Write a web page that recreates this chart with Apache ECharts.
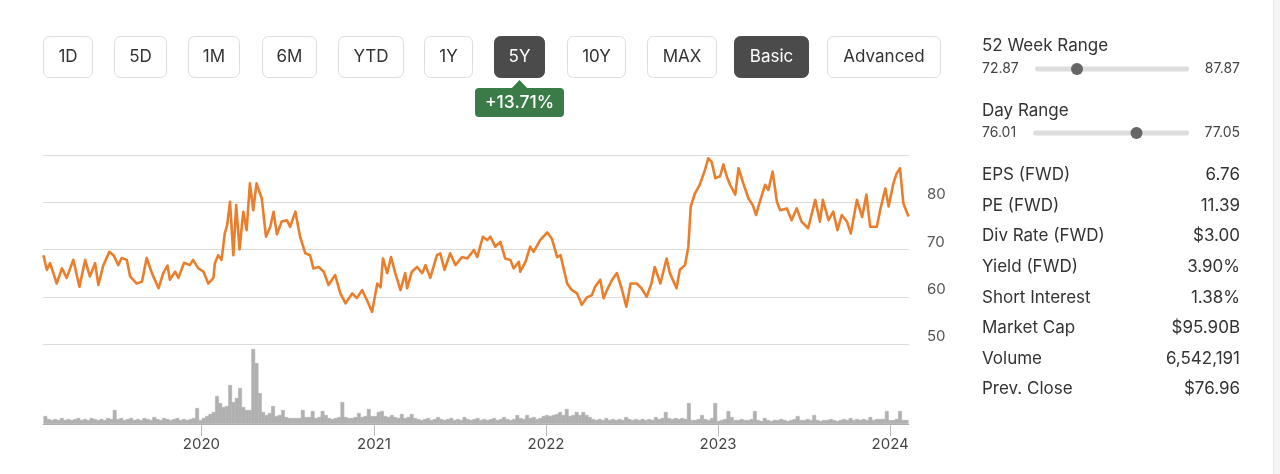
<!DOCTYPE html>
<html>
<head>
<meta charset="utf-8">
<script src="https://cdn.jsdelivr.net/npm/echarts@6/dist/echarts.min.js"></script>
<style>
html,body{margin:0;padding:0;background:#fff;}
#chart{width:1280px;height:474px;}
</style>
</head>
<body>
<div id="chart"></div>
<script>
// ---------------- DATA ----------------
const priceDates = [
'2019-02-04','2019-02-11','2019-02-18','2019-03-04','2019-03-15','2019-03-25','2019-04-08','2019-04-21','2019-05-03','2019-05-13',
'2019-05-24','2019-05-31','2019-06-10','2019-06-23','2019-07-02','2019-07-12','2019-07-19','2019-07-30','2019-08-06','2019-08-20',
'2019-08-31','2019-09-10','2019-09-21','2019-10-05','2019-10-15','2019-10-24','2019-10-29','2019-11-09','2019-11-16','2019-11-28',
'2019-12-10','2019-12-17','2019-12-28',
'2020-01-08','2020-01-18','2020-01-29','2020-02-01','2020-02-08','2020-02-15','2020-02-22','2020-02-27','2020-03-04','2020-03-11',
'2020-03-17','2020-03-24','2020-04-01','2020-04-08','2020-04-15','2020-04-22','2020-04-29','2020-05-10','2020-05-19','2020-05-28',
'2020-06-04','2020-06-11','2020-06-21','2020-07-02','2020-07-09','2020-07-20','2020-07-30','2020-08-10','2020-08-20','2020-08-27',
'2020-09-07','2020-09-18','2020-09-28','2020-10-12','2020-10-23','2020-11-03','2020-11-17','2020-11-27','2020-12-08','2020-12-18',
'2020-12-29',
'2021-01-09','2021-01-16','2021-01-21','2021-01-30','2021-02-07','2021-02-16','2021-02-27','2021-03-09','2021-03-13','2021-03-23',
'2021-04-03','2021-04-14','2021-04-21','2021-05-01','2021-05-15','2021-05-22','2021-05-31','2021-06-12','2021-06-23','2021-07-07',
'2021-07-18','2021-08-01','2021-08-08','2021-08-20','2021-08-29','2021-09-05','2021-09-15','2021-09-26','2021-10-06','2021-10-17',
'2021-10-24','2021-11-04','2021-11-07','2021-11-18','2021-11-28','2021-12-05','2021-12-19',
'2022-01-03','2022-01-13','2022-01-24','2022-01-31','2022-02-14','2022-02-24','2022-03-07','2022-03-17','2022-03-28','2022-04-07',
'2022-04-14','2022-04-25','2022-05-02','2022-05-09','2022-05-20','2022-05-30','2022-06-09','2022-06-19','2022-06-28','2022-07-11',
'2022-07-21','2022-08-01','2022-08-11','2022-08-18','2022-08-30','2022-09-12','2022-09-19','2022-10-03','2022-10-10','2022-10-21',
'2022-10-28','2022-11-02','2022-11-11','2022-11-21','2022-12-02','2022-12-09','2022-12-16','2022-12-24',
'2023-01-03','2023-01-10','2023-01-17','2023-01-24','2023-02-04','2023-02-11','2023-02-21','2023-03-04','2023-03-13','2023-03-20',
'2023-03-27','2023-04-08','2023-04-15','2023-04-24','2023-05-03','2023-05-10','2023-05-24','2023-06-03','2023-06-14','2023-06-24',
'2023-07-08','2023-07-23','2023-08-02','2023-08-08','2023-08-20','2023-08-30','2023-09-08','2023-09-17','2023-09-28','2023-10-06',
'2023-10-19','2023-10-30','2023-11-08','2023-11-16','2023-11-30','2023-12-07','2023-12-18','2023-12-25',
'2024-01-04','2024-01-11','2024-01-18','2024-01-25','2024-02-05'
];
const priceValues = [
68.8,65.7,67.1,62.8,66.0,64.0,67.8,62.1,67.8,64.3,
67.1,62.5,66.5,69.5,68.8,66.7,68.2,67.8,64.3,62.8,
63.2,68.2,65.0,61.8,65.0,66.6,63.6,65.3,64.0,67.2,
66.7,67.8,66.0,
65.3,62.8,64.0,67.1,68.8,67.8,73.4,75.2,80.1,68.8,
79.4,70.0,78.0,74.1,84.0,78.3,84.0,80.8,72.7,74.8,
78.0,73.2,75.9,76.2,74.8,78.0,72.7,69.2,68.8,66.0,
66.3,65.3,62.5,64.6,60.7,58.6,60.7,59.7,61.4,59.3,
56.8,
62.8,62.0,68.1,65.0,68.4,65.0,61.4,65.0,61.8,65.3,
66.3,65.0,66.7,64.0,68.8,69.2,65.7,69.2,66.7,68.4,
68.1,69.9,68.4,72.7,72.0,72.7,70.6,71.6,68.1,67.8,
66.0,67.4,65.3,67.4,70.6,69.5,72.0,
73.6,72.2,68.4,68.8,62.8,61.4,60.7,58.3,59.9,60.3,
62.1,63.6,59.7,61.4,63.6,65.0,61.8,57.9,62.8,62.8,
61.8,60.0,62.8,66.3,62.8,68.1,65.0,61.8,65.7,66.7,
70.6,79.1,81.9,83.7,86.8,89.3,88.6,85.1,
85.5,88.0,85.5,83.7,81.6,87.2,84.0,80.8,79.4,77.3,
79.8,83.7,82.6,86.5,80.1,78.3,78.7,76.2,78.7,75.9,
74.5,80.5,75.9,80.5,76.2,78.0,74.1,77.3,75.9,73.4,
80.5,76.9,81.6,74.8,74.8,78.3,82.9,79.1,
84.0,86.1,87.2,79.8,77.0
];
// weekly volume (millions of shares), weeks starting on volumeStart
const volumeStart = '2019-02-04';
const volumeValues = [
8,5,4,5,4,6,4,5,4,5, 6,4,5,4,6,5,4,5,4,6, 5,14,5,6,4,5,6,4,5,4, 6,5,4,7,5,4,6,5,4,5,
6,4,5,4,5,6,16,4,6,8, 10,12,28,21,17,18,39,22,26,36, 17,14,14,75,61,31,12,9,11,18, 8,9,14,7,6,6,6,6,14,7,
7,13,6,7,13,9,6,5,6,7, 22,7,6,6,7,11,7,8,15,8, 8,12,13,8,7,9,7,6,10,6, 7,10,6,5,4,5,6,4,5,7,
5,4,5,6,4,5,4,7,5,4, 5,6,4,5,4,5,6,4,5,7, 5,4,5,9,6,5,9,6,7,5, 6,8,9,8,9,10,12,9,15,8,
9,12,9,12,9,7,5,4,5,4, 6,4,5,4,5,4,7,5,4,5, 4,5,4,5,4,7,5,6,12,6, 5,6,5,6,5,21,4,4,5,9,
5,4,6,21,3,4,5,13,7,4, 4,5,4,4,5,13,4,3,6,4, 3,4,4,5,4,3,4,5,8,4, 4,5,4,9,4,3,4,4,5,4,
3,4,5,4,6,4,5,4,5,4, 7,4,5,5,5,13,4,4,5,13, 4,4
];
const axisStart = '2019-02-03';
const axisEnd = '2024-02-06';
const priceTicks = [50, 60, 70, 80, 90];

const rangeButtons = ['1D','5D','1M','6M','YTD','1Y','5Y','10Y','MAX','Basic','Advanced'];
const activeButtons = ['5Y','Basic'];
const changeLabel = '+13.71%';

const weekRangeLow = 72.87, weekRangeHigh = 87.87, weekRangeNow = 76.96;
const dayRangeLow = 76.01, dayRangeHigh = 77.05, dayRangeNow = 76.70;

const statLabels = ['EPS (FWD)','PE (FWD)','Div Rate (FWD)','Yield (FWD)','Short Interest','Market Cap','Volume','Prev. Close'];
const statValues = ['6.76','11.39','$3.00','3.90%','1.38%','$95.90B','6,542,191','$76.96'];

// ---------------- LAYOUT (not data) ----------------
const FONT = 'Inter, "Helvetica Neue", "Liberation Sans", Arial, sans-serif';
const buttonBoxes = [[43,92],[114,166],[188,239],[262,316],[338,403],[424,472],[494,544],[567,625],[647,716],[734,808],[827,940]];

const DAY = 86400000;
const volumeDates = volumeValues.map((v, i) => {
  const d = new Date(volumeStart + 'T00:00:00Z');
  return new Date(d.getTime() + i * 7 * DAY).toISOString().slice(0, 10);
});

const graphics = [];
// buttons
rangeButtons.forEach((label, i) => {
  const [x0, x1] = buttonBoxes[i];
  const active = activeButtons.includes(label);
  graphics.push({
    type: 'rect', silent: true,
    shape: { x: x0 + 0.5, y: 36.5, width: x1 - x0, height: 41, r: 6 },
    style: { fill: active ? '#4b4b4b' : '#ffffff', stroke: active ? '#4b4b4b' : '#dedede', lineWidth: 1 }
  });
  graphics.push({
    type: 'text', silent: true,
    style: { text: label, x: (x0 + x1) / 2 + 0.5, y: 57, align: 'center', verticalAlign: 'middle',
      fill: active ? '#ffffff' : '#333333', fontSize: 17, fontFamily: FONT }
  });
});
// change badge
graphics.push({ type: 'polygon', silent: true, shape: { points: [[511, 89], [519.5, 80], [528, 89]] }, style: { fill: '#3a7b48' } });
graphics.push({ type: 'rect', silent: true, shape: { x: 475, y: 88, width: 89, height: 29, r: 4 }, style: { fill: '#3a7b48' } });
graphics.push({ type: 'text', silent: true, style: { text: changeLabel, x: 519.5, y: 103, align: 'center', verticalAlign: 'middle',
  fill: '#ffffff', fontSize: 17.5, fontWeight: 500, fontFamily: FONT } });

// right panel: ranges
function rangeBlock(title, low, high, now, yTitle, yRow, trackX0, trackX1) {
  graphics.push({ type: 'text', silent: true, style: { text: title, x: 982, y: yTitle, verticalAlign: 'middle', fill: '#333', fontSize: 17, fontFamily: FONT } });
  graphics.push({ type: 'text', silent: true, style: { text: low.toFixed(2), x: 982, y: yRow, verticalAlign: 'middle', fill: '#444', fontSize: 14, fontFamily: FONT } });
  graphics.push({ type: 'text', silent: true, style: { text: high.toFixed(2), x: 1240, y: yRow, align: 'right', verticalAlign: 'middle', fill: '#444', fontSize: 14, fontFamily: FONT } });
  graphics.push({ type: 'rect', silent: true, shape: { x: trackX0, y: yRow - 2.5, width: trackX1 - trackX0, height: 5, r: 2.5 }, style: { fill: '#dddddd' } });
  const kx = trackX0 + (now - low) / (high - low) * (trackX1 - trackX0);
  graphics.push({ type: 'circle', silent: true, shape: { cx: kx, cy: yRow, r: 6 }, style: { fill: '#666666' } });
}
rangeBlock('52 Week Range', weekRangeLow, weekRangeHigh, weekRangeNow, 46, 69, 1035, 1189);
rangeBlock('Day Range', dayRangeLow, dayRangeHigh, dayRangeNow, 111, 133, 1033, 1189);

// stats
statLabels.forEach((lab, i) => {
  const y = 175 + i * 30.6;
  graphics.push({ type: 'text', silent: true, style: { text: lab, x: 982, y: y, verticalAlign: 'middle', fill: '#333', fontSize: 17, fontFamily: FONT } });
  graphics.push({ type: 'text', silent: true, style: { text: statValues[i], x: 1240, y: y, align: 'right', verticalAlign: 'middle', fill: '#333', fontSize: 17, fontFamily: FONT } });
});
// right page edge
graphics.push({ type: 'rect', silent: true, shape: { x: 1273, y: 0, width: 7, height: 474 }, style: { fill: '#f4f4f4' } });
graphics.push({ type: 'line', silent: true, shape: { x1: 1273.5, y1: 0, x2: 1273.5, y2: 474 }, style: { stroke: '#e6e6e6', lineWidth: 1 } });

const chart = echarts.init(document.getElementById('chart'), null, { renderer: 'canvas' });
chart.setOption({
  animation: false,
  backgroundColor: '#ffffff',
  textStyle: { fontFamily: FONT },
  grid: [
    { left: 43, right: 371, top: 155, height: 189 },
    { left: 43, right: 371, top: 344, height: 80 }
  ],
  xAxis: [
    { type: 'time', gridIndex: 0, min: axisStart, max: axisEnd, show: false },
    { type: 'time', gridIndex: 1, min: axisStart, max: axisEnd,
      minInterval: 365 * DAY, splitNumber: 5,
      axisLine: { show: true, lineStyle: { color: '#b0b0b0', width: 1 } },
      axisTick: { show: true, length: 12, lineStyle: { color: '#bdbdbd' } },
      splitLine: { show: false },
      axisLabel: { formatter: '{yyyy}', fontSize: 15, color: '#444', margin: 13, showMinLabel: false, showMaxLabel: false, fontFamily: FONT }
    }
  ],
  yAxis: [
    { type: 'value', gridIndex: 0, position: 'right', min: priceTicks[0], max: priceTicks[priceTicks.length - 1], interval: 10,
      axisLine: { show: false }, axisTick: { show: false },
      splitLine: { show: true, lineStyle: { color: '#dcdcdc', width: 1 } },
      axisLabel: { show: true, margin: 18, fontSize: 15, color: '#555', verticalAlign: 'bottom', showMaxLabel: false, fontFamily: FONT }
    },
    { type: 'value', gridIndex: 1, min: 0, max: 80, show: false, splitLine: { show: false } }
  ],
  series: [
    { type: 'line', xAxisIndex: 0, yAxisIndex: 0, showSymbol: false, silent: true,
      data: priceDates.map((d, i) => [d, priceValues[i]]),
      lineStyle: { color: '#e97f2c', width: 2.6, join: 'round' } },
    { type: 'bar', xAxisIndex: 1, yAxisIndex: 1, silent: true, barWidth: 3.8,
      data: volumeDates.map((d, i) => [d, volumeValues[i]]),
      itemStyle: { color: '#b0b0b0', borderColor: '#b0b0b0', borderWidth: 0.6 } }
  ],
  graphic: graphics
});
</script>
</body>
</html>
